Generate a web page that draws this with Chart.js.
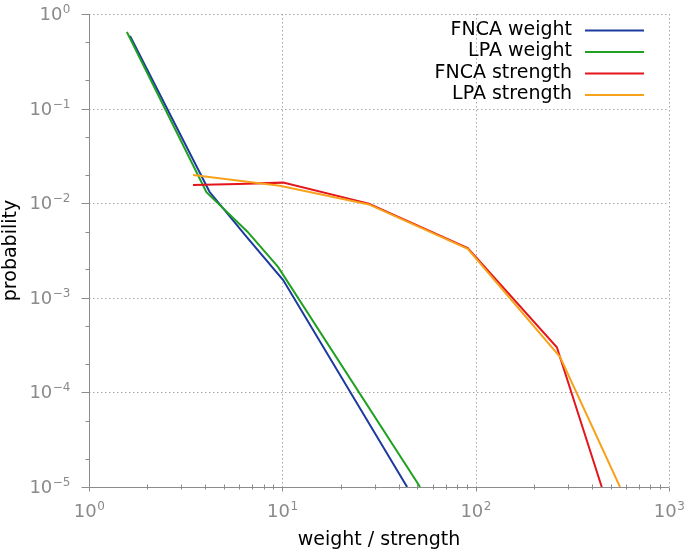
<!DOCTYPE html>
<html>
<head>
<meta charset="utf-8">
<script src="https://cdn.jsdelivr.net/npm/chart.js@4.4.1/dist/chart.umd.min.js"></script>
<style>
  html, body { margin: 0; padding: 0; background: #fff; }
  canvas { display: block; }
</style>
</head>
<body>
<canvas id="distChart" width="685" height="554"></canvas>
<script>
// 값은 그림에서 읽어낸 근사치
const fncaWeightX = [1.63, 4.2, 6.6, 10.1, 44.2];
const fncaWeightY = [0.585, 0.0132, 0.0043, 0.00154, 1e-5];

const lpaWeightX = [1.57, 4.05, 6.6, 9.5, 51.6];
const lpaWeightY = [0.645, 0.0131, 0.0050, 0.00212, 1e-5];

const fncaStrengthX = [3.45, 5.9, 10.1, 28, 91, 263, 449];
const fncaStrengthY = [0.0156, 0.0160, 0.0165, 0.0099, 0.00336, 3.0e-4, 1e-5];

const lpaStrengthX = [3.45, 9.7, 28, 91, 273, 558];
const lpaStrengthY = [0.0199, 0.0153, 0.0097, 0.0033, 2.38e-4, 1e-5];

const seriesLabels = ['FNCA weight', 'LPA weight', 'FNCA strength', 'LPA strength'];
const seriesColors = ['#1c3a9e', '#20a020', '#e4151b', '#f7a21b'];

const xMajor = [1, 10, 100, 1000];
const yMajor = [1e-5, 1e-4, 1e-3, 1e-2, 1e-1, 1];
const xMinorSteps = [2, 3, 4, 5, 6, 7, 8, 9];
const yMinorSteps = [2, 5];

const FONT = 'DejaVu Sans';
const TICK_COLOR = '#8a8a8a';

function toPoints(xs, ys) {
    return xs.map((x, i) => ({ x: x, y: ys[i] }));
}

// 레이아웃 여백을 직접 지정
function fixScale(s, size) {
    if (s.isHorizontal()) s.height = size; else s.width = size;
    s.paddingTop = 0; s.paddingBottom = 0; s.paddingLeft = 0; s.paddingRight = 0;
}

// 10^n 눈금 글자 (위첨자 포함)
function drawPow(ctx, v, x, baseline, align) {
    const e = String(Math.round(Math.log10(v))).replace('-', '\u2212');
    ctx.font = '18px "' + FONT + '"';
    const wb = ctx.measureText('10').width;
    ctx.font = '12px "' + FONT + '"';
    const we = ctx.measureText(e).width;
    const start = align === 'right' ? x - wb - we : x - (wb + we) / 2;
    ctx.textAlign = 'left';
    ctx.textBaseline = 'alphabetic';
    ctx.fillStyle = TICK_COLOR;
    ctx.font = '18px "' + FONT + '"';
    ctx.fillText('10', start, baseline);
    ctx.font = '12px "' + FONT + '"';
    ctx.fillText(e, start + wb + 0.5, baseline - 7);
}

// 격자, 축선, 눈금 그리기
const framePlugin = {
    id: 'framePlugin',
    beforeDatasetsDraw(chart) {
        const { ctx, chartArea: a, scales: { x, y } } = chart;
        ctx.save();
        ctx.lineWidth = 1;
        ctx.strokeStyle = '#a8a8a8';
        ctx.setLineDash([1.5, 2.5]);
        xMajor.slice(1).forEach(v => {
            const px = Math.round(x.getPixelForValue(v)) + 0.5;
            ctx.beginPath(); ctx.moveTo(px, a.top); ctx.lineTo(px, a.bottom); ctx.stroke();
        });
        yMajor.slice(1).forEach(v => {
            const py = Math.round(y.getPixelForValue(v)) + 0.5;
            ctx.beginPath(); ctx.moveTo(a.left, py); ctx.lineTo(a.right, py); ctx.stroke();
        });
        ctx.setLineDash([]);
        ctx.strokeStyle = '#8c8c8c';
        const left = Math.round(a.left) + 0.5;
        const bottom = Math.round(a.bottom) + 0.5;
        ctx.beginPath();
        ctx.moveTo(left, a.top); ctx.lineTo(left, bottom); ctx.lineTo(a.right, bottom);
        ctx.stroke();

        // y 눈금
        yMajor.forEach((v, i) => {
            const py = Math.round(y.getPixelForValue(v)) + 0.5;
            ctx.beginPath(); ctx.moveTo(left - 8, py); ctx.lineTo(left, py); ctx.stroke();
            if (i < yMajor.length - 1) {
                yMinorSteps.forEach(s => {
                    const pm = Math.round(y.getPixelForValue(v * s)) + 0.5;
                    ctx.beginPath(); ctx.moveTo(left - 4, pm); ctx.lineTo(left, pm); ctx.stroke();
                });
            }
            drawPow(ctx, v, 70, y.getPixelForValue(v) + 6, 'right');
        });
        // x 눈금
        xMajor.forEach((v, i) => {
            const px = Math.round(x.getPixelForValue(v)) + 0.5;
            ctx.beginPath(); ctx.moveTo(px, bottom); ctx.lineTo(px, bottom + 4); ctx.stroke();
            if (i < xMajor.length - 1) {
                xMinorSteps.forEach(s => {
                    const pm = Math.round(x.getPixelForValue(v * s)) + 0.5;
                    ctx.beginPath(); ctx.moveTo(pm, bottom - 3); ctx.lineTo(pm, bottom + 2); ctx.stroke();
                });
            }
            drawPow(ctx, v, x.getPixelForValue(v), 517, 'center');
        });
        ctx.restore();
    },
    // 범례: 글자는 오른쪽 정렬, 선 샘플은 오른쪽
    afterDatasetsDraw(chart) {
        const { ctx } = chart;
        ctx.save();
        ctx.font = '19px "' + FONT + '"';
        ctx.textAlign = 'right';
        ctx.textBaseline = 'middle';
        seriesLabels.forEach((label, i) => {
            const cy = 30 + i * 21.5;
            ctx.fillStyle = '#000';
            ctx.fillText(label, 572, cy);
            ctx.strokeStyle = seriesColors[i];
            ctx.lineWidth = 2;
            ctx.beginPath(); ctx.moveTo(585, cy + 0.5); ctx.lineTo(644, cy + 0.5); ctx.stroke();
        });
        ctx.restore();
    }
};

const xs = [fncaWeightX, lpaWeightX, fncaStrengthX, lpaStrengthX];
const ys = [fncaWeightY, lpaWeightY, fncaStrengthY, lpaStrengthY];

new Chart(document.getElementById('distChart'), {
    type: 'line',
    data: {
        datasets: seriesLabels.map((label, i) => ({
            label: label,
            data: toPoints(xs[i], ys[i]),
            borderColor: seriesColors[i],
            borderWidth: 2,
            pointRadius: 0,
            tension: 0,
            fill: false,
            order: 3 - i
        }))
    },
    options: {
        responsive: false,
        animation: false,
        layout: { padding: { top: 14, right: 16, left: 0, bottom: 0 } },
        plugins: {
            legend: { display: false },
            tooltip: { enabled: false }
        },
        scales: {
            x: {
                type: 'logarithmic',
                min: 1,
                max: 1000,
                afterBuildTicks: s => { s.ticks = xMajor.map(v => ({ value: v })); },
                afterFit: s => fixScale(s, 67),
                grid: { display: false },
                border: { display: false },
                ticks: { display: false },
                title: {
                    display: true,
                    text: 'weight / strength',
                    color: '#000',
                    font: { family: FONT, size: 19 },
                    padding: { top: 0, bottom: 3 }
                }
            },
            y: {
                type: 'logarithmic',
                min: 1e-5,
                max: 1,
                afterBuildTicks: s => { s.ticks = yMajor.map(v => ({ value: v })); },
                afterFit: s => fixScale(s, 89),
                grid: { display: false },
                border: { display: false },
                ticks: { display: false },
                title: {
                    display: true,
                    text: 'probability',
                    color: '#000',
                    font: { family: FONT, size: 19 },
                    padding: { top: 0, bottom: 0 }
                }
            }
        }
    },
    plugins: [framePlugin]
});
</script>
</body>
</html>
